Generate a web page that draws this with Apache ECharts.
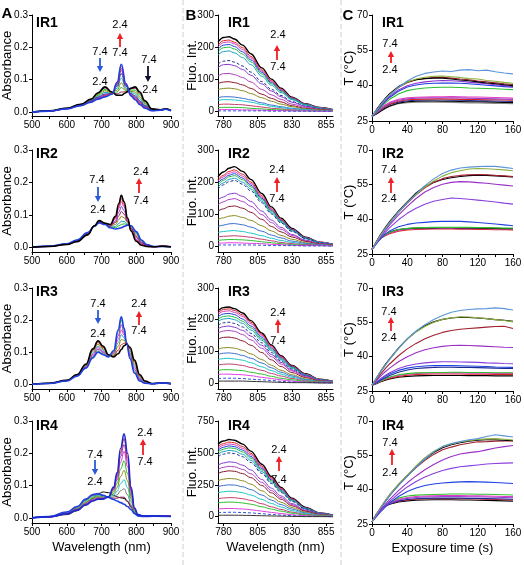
<!DOCTYPE html>
<html><head><meta charset="utf-8">
<script src="https://cdn.jsdelivr.net/npm/echarts@6/dist/echarts.min.js"></script>
<style>html,body{margin:0;padding:0;background:#fff}#c{width:524px;height:565px}</style>
</head><body><div id="c"></div>
<script>
// ---------------- DATA ----------------
// Column A: absorbance spectra (x = wavelength nm)
const absX1 = [500, 550, 600, 640, 670, 690, 710, 730, 745, 757, 770, 785, 797, 810, 825, 845, 870, 885, 900];
const absIR1 = [
  [0, .004, .012, .024, .039, .058, .075, .061, .056, .062, .063, .072, .074, .058, .033, .009, .007, .010, .005],
  [0, .004, .012, .023, .038, .055, .070, .060, .062, .076, .067, .068, .068, .053, .029, .009, .007, .010, .005],
  [0, .004, .011, .022, .036, .052, .066, .059, .068, .090, .071, .064, .062, .047, .026, .008, .007, .010, .005],
  [0, .003, .011, .022, .035, .049, .061, .058, .074, .105, .075, .061, .056, .041, .022, .007, .007, .009, .005],
  [0, .003, .011, .021, .034, .046, .056, .057, .080, .119, .080, .057, .050, .035, .019, .006, .006, .009, .005],
  [0, .003, .010, .021, .033, .044, .053, .056, .084, .129, .082, .055, .046, .032, .017, .005, .006, .009, .004],
  [0, .003, .010, .021, .032, .042, .051, .056, .087, .136, .085, .053, .043, .029, .015, .005, .006, .009, .004],
  [0, .003, .010, .020, .031, .041, .049, .055, .090, .143, .087, .051, .040, .026, .013, .004, .006, .009, .004],
  [0, .004, .012, .024, .040, .060, .078, .062, .052, .052, .060, .074, .078, .062, .035, .010, .007, .010, .005],
  [0, .003, .010, .020, .031, .040, .047, .055, .092, .148, .088, .050, .038, .024, .012, .004, .006, .009, .004]
];
const absX2 = [500, 550, 600, 630, 660, 680, 693, 710, 725, 740, 750, 757, 765, 775, 785, 800, 815, 830, 850, 875, 900];
const absIR2 = [
  [0, .003, .010, .022, .045, .065, .075, .070, .060, .056, .058, .060, .064, .068, .066, .048, .022, .008, .002, .002, .001],
  [0, .003, .010, .022, .044, .065, .076, .070, .061, .060, .066, .070, .072, .070, .064, .045, .020, .007, .002, .002, .001],
  [0, .003, .010, .021, .044, .065, .076, .071, .062, .064, .073, .080, .079, .072, .063, .042, .019, .007, .002, .002, .001],
  [0, .003, .009, .020, .043, .065, .077, .071, .064, .070, .085, .095, .091, .076, .060, .038, .016, .006, .002, .002, .001],
  [0, .003, .009, .020, .042, .066, .079, .072, .065, .076, .097, .110, .102, .079, .058, .033, .014, .005, .001, .002, .001],
  [0, .002, .009, .019, .040, .066, .080, .073, .067, .081, .108, .125, .113, .082, .056, .029, .012, .004, .001, .003, .001],
  [0, .002, .008, .018, .039, .066, .081, .073, .068, .087, .120, .140, .125, .086, .053, .024, .009, .003, .001, .003, .001],
  [0, .002, .008, .018, .039, .066, .081, .074, .069, .091, .127, .150, .132, .088, .052, .021, .008, .003, .001, .003, .001],
  [0, .002, .008, .017, .038, .066, .082, .074, .070, .095, .135, .160, .140, .090, .050, .018, .006, .002, .001, .003, .001]
];
const absX3 = [500, 550, 600, 630, 655, 675, 690, 705, 720, 735, 748, 757, 765, 772, 782, 795, 810, 825, 845, 875, 900];
const absIR3 = [
  [0, .002, .010, .026, .051, .085, .104, .095, .086, .103, .163, .200, .170, .130, .084, .039, .012, .004, .001, .004, .001],
  [0, .002, .011, .026, .053, .089, .109, .099, .087, .100, .151, .185, .161, .129, .089, .045, .015, .005, .001, .004, .001],
  [0, .002, .011, .027, .055, .093, .114, .102, .088, .097, .140, .169, .153, .128, .094, .051, .018, .006, .001, .004, .001],
  [0, .003, .011, .028, .057, .097, .119, .106, .089, .094, .129, .154, .145, .127, .099, .057, .021, .007, .002, .004, .002],
  [0, .003, .011, .029, .058, .102, .125, .110, .090, .091, .118, .139, .137, .127, .105, .063, .024, .008, .002, .004, .002],
  [0, .003, .012, .029, .060, .106, .130, .114, .091, .088, .106, .123, .128, .126, .110, .069, .027, .009, .002, .004, .002],
  [0, .003, .012, .030, .062, .110, .135, .118, .092, .085, .095, .108, .120, .125, .115, .075, .030, .010, .002, .004, .002],
  [0, .002, .010, .025, .050, .082, .100, .092, .085, .105, .170, .210, .175, .130, .080, .035, .010, .003, .001, .004, .001]
];
const absX4 = [500, 550, 600, 630, 655, 675, 690, 705, 720, 735, 745, 755, 765, 775, 785, 795, 805, 820, 850, 900];
const absIR4 = [
  [0, .003, .010, .022, .040, .060, .075, .080, .078, .070, .065, .062, .060, .050, .035, .018, .008, .005, .006, .005],
  [0, .004, .017, .034, .056, .070, .073, .069, .063, .061, .061, .064, .064, .052, .032, .015, .006, .004, .005, .004],
  [0, .004, .017, .033, .054, .068, .071, .067, .063, .065, .071, .084, .090, .071, .040, .017, .007, .004, .005, .004],
  [0, .004, .016, .031, .052, .065, .069, .066, .064, .070, .083, .106, .118, .093, .050, .019, .007, .005, .005, .004],
  [0, .004, .015, .030, .049, .062, .067, .064, .064, .075, .094, .128, .147, .114, .059, .021, .008, .005, .005, .004],
  [0, .004, .014, .028, .047, .060, .064, .063, .064, .081, .107, .151, .177, .137, .068, .024, .008, .005, .006, .005],
  [0, .003, .014, .027, .045, .057, .062, .061, .065, .086, .118, .173, .206, .159, .078, .026, .009, .005, .006, .005],
  [0, .003, .013, .026, .043, .055, .061, .060, .065, .089, .127, .190, .227, .175, .085, .027, .009, .006, .006, .005],
  [0, .003, .012, .025, .041, .053, .059, .059, .065, .092, .134, .203, .245, .188, .090, .029, .010, .006, .006, .005],
  [0, .004, .018, .035, .058, .072, .075, .070, .063, .057, .052, .047, .042, .035, .025, .013, .006, .004, .005, .004],
  [0, .003, .012, .024, .040, .052, .058, .058, .065, .095, .140, .215, .260, .200, .095, .030, .010, .006, .006, .005]
];

// Column B: fluorescence spectra
const fluX = [776, 780, 784, 788, 794, 800, 808, 815, 822, 830, 840, 850, 860];
const fluIR1 = [
  [216, 230, 232, 225, 206, 179, 135, 100, 72, 44, 23, 12, 5],
  [206, 220, 222, 215, 198, 171, 129, 95, 69, 42, 22, 11, 4],
  [201, 214, 216, 210, 192, 166, 125, 93, 67, 41, 22, 11, 4],
  [193, 206, 208, 202, 185, 160, 121, 89, 64, 40, 21, 10, 4],
  [186, 198, 200, 194, 178, 154, 116, 86, 62, 38, 20, 10, 4],
  [175, 186, 188, 182, 167, 145, 109, 81, 58, 36, 19, 9, 4],
  [147, 156, 158, 153, 141, 122, 92, 68, 49, 30, 16, 8, 3],
  [136, 145, 146, 142, 130, 112, 85, 63, 45, 28, 15, 7, 3],
  [110, 117, 118, 114, 105, 91, 68, 51, 37, 22, 12, 6, 2],
  [86, 91, 92, 89, 82, 71, 53, 40, 29, 17, 9, 5, 2],
  [67, 71, 72, 70, 64, 55, 42, 31, 22, 14, 7, 4, 1],
  [42, 45, 45, 44, 40, 35, 26, 19, 14, 9, 5, 2, 1],
  [33, 36, 36, 35, 32, 28, 21, 15, 11, 7, 4, 2, 1],
  [20, 22, 22, 21, 20, 17, 13, 9, 7, 4, 2, 1, 0],
  [11, 12, 12, 12, 11, 9, 7, 5, 4, 2, 1, 1, 0],
  [5, 5, 5, 5, 4, 4, 3, 2, 2, 1, 1, 0, 0],
  [1, 1, 1, 1, 1, 1, 1, 0, 0, 0, 0, 0, 0]
];
const fluIR2 = [
  [216, 231, 243, 248, 233, 208, 164, 122, 87, 55, 27, 12, 5],
  [207, 221, 233, 238, 224, 200, 157, 117, 83, 52, 26, 12, 5],
  [202, 216, 227, 232, 218, 195, 153, 114, 81, 51, 26, 12, 5],
  [197, 210, 221, 226, 212, 190, 149, 111, 79, 50, 25, 11, 5],
  [191, 205, 216, 220, 207, 185, 145, 108, 77, 48, 24, 11, 4],
  [184, 197, 208, 212, 199, 178, 140, 104, 74, 47, 23, 11, 4],
  [178, 191, 201, 205, 193, 172, 135, 100, 72, 45, 23, 10, 4],
  [144, 153, 162, 165, 155, 139, 109, 81, 58, 36, 18, 8, 3],
  [129, 138, 145, 148, 139, 124, 98, 73, 52, 33, 16, 7, 3],
  [109, 116, 123, 125, 118, 105, 83, 61, 44, 28, 14, 6, 3],
  [83, 88, 93, 95, 89, 80, 63, 47, 33, 21, 10, 5, 2],
  [61, 65, 69, 70, 66, 59, 46, 34, 25, 15, 8, 4, 1],
  [42, 45, 47, 48, 45, 40, 32, 24, 17, 11, 5, 2, 1],
  [28, 30, 31, 32, 30, 27, 21, 16, 11, 7, 4, 2, 1],
  [17, 19, 20, 20, 19, 17, 13, 10, 7, 4, 2, 1, 0],
  [9, 9, 10, 10, 9, 8, 7, 5, 4, 2, 1, 1, 0],
  [3, 3, 3, 3, 3, 3, 2, 1, 1, 1, 0, 0, 0]
];
const fluIR3 = [
  [228, 238, 240, 235, 221, 197, 158, 120, 86, 55, 29, 12, 5],
  [222, 232, 234, 229, 215, 192, 154, 117, 84, 54, 28, 12, 5],
  [217, 226, 228, 223, 210, 187, 150, 114, 82, 52, 27, 11, 5],
  [209, 218, 220, 216, 202, 180, 145, 110, 79, 51, 26, 11, 4],
  [201, 210, 212, 208, 195, 174, 140, 106, 76, 49, 25, 11, 4],
  [194, 202, 204, 200, 188, 167, 135, 102, 73, 47, 24, 10, 4],
  [182, 190, 192, 188, 177, 157, 127, 96, 69, 44, 23, 10, 4],
  [171, 178, 180, 176, 166, 148, 119, 90, 65, 41, 22, 9, 4],
  [158, 164, 166, 163, 153, 136, 110, 83, 60, 38, 20, 8, 3],
  [138, 144, 145, 142, 133, 119, 96, 73, 52, 33, 17, 7, 3],
  [106, 111, 112, 110, 103, 92, 74, 56, 40, 26, 13, 6, 2],
  [90, 94, 95, 93, 87, 78, 63, 48, 34, 22, 11, 5, 2],
  [74, 77, 78, 76, 72, 64, 51, 39, 28, 18, 9, 4, 2],
  [57, 59, 60, 59, 55, 49, 40, 30, 22, 14, 7, 3, 1],
  [40, 42, 42, 41, 39, 34, 28, 21, 15, 10, 5, 2, 1],
  [27, 28, 28, 27, 26, 23, 18, 14, 10, 6, 3, 1, 1],
  [14, 15, 15, 15, 14, 12, 10, 8, 5, 3, 2, 1, 0],
  [6, 6, 6, 6, 6, 5, 4, 3, 2, 1, 1, 0, 0]
];
const fluIR4 = [
  [569, 593, 605, 599, 569, 514, 411, 315, 230, 145, 73, 30, 12],
  [550, 573, 585, 579, 550, 497, 398, 304, 222, 140, 70, 29, 12],
  [536, 559, 570, 564, 536, 485, 388, 296, 217, 137, 68, 29, 11],
  [522, 544, 555, 549, 522, 472, 377, 289, 211, 133, 67, 28, 11],
  [508, 529, 540, 535, 508, 459, 367, 281, 205, 130, 65, 27, 11],
  [489, 510, 520, 515, 489, 442, 354, 270, 198, 125, 62, 26, 10],
  [470, 490, 500, 495, 470, 425, 340, 260, 190, 120, 60, 25, 10],
  [404, 421, 430, 426, 404, 366, 292, 224, 163, 103, 52, 22, 9],
  [371, 387, 395, 391, 371, 336, 269, 205, 150, 95, 47, 20, 8],
  [338, 353, 360, 356, 338, 306, 245, 187, 137, 86, 43, 18, 7],
  [282, 294, 300, 297, 282, 255, 204, 156, 114, 72, 36, 15, 6],
  [235, 245, 250, 248, 235, 213, 170, 130, 95, 60, 30, 13, 5],
  [188, 196, 200, 198, 188, 170, 136, 104, 76, 48, 24, 10, 4],
  [141, 147, 150, 149, 141, 128, 102, 78, 57, 36, 18, 8, 3],
  [108, 113, 115, 114, 108, 98, 78, 60, 44, 28, 14, 6, 2],
  [61, 64, 65, 64, 61, 55, 44, 34, 25, 16, 8, 3, 1],
  [33, 34, 35, 35, 33, 30, 24, 18, 13, 8, 4, 2, 1],
  [11, 12, 12, 12, 11, 10, 8, 6, 5, 3, 1, 1, 0]
];

// Column C: temperature vs exposure time
const timeX = [0, 5, 10, 15, 20, 30, 40, 50, 60, 70, 80, 90, 100, 110, 120, 130, 140, 150, 160];
const tempIR1 = [
  [27, 28, 29.2, 30.3, 31.2, 32.3, 32.8, 33, 33.1, 33, 33, 32.9, 32.8, 32.7, 32.7, 32.6, 32.5, 32.4, 32.3],
  [27, 28, 29.2, 30.4, 31.4, 32.6, 33.2, 33.4, 33.5, 33.5, 33.4, 33.4, 33.3, 33.2, 33.2, 33.1, 33, 32.9, 32.8],
  [27, 28.3, 29.8, 31, 32, 33, 33.6, 33.8, 33.9, 33.9, 33.9, 33.8, 33.8, 33.7, 33.6, 33.6, 33.5, 33.4, 33.3],
  [27, 28.4, 30, 31.2, 32.2, 33.4, 34, 34.2, 34.3, 34.4, 34.4, 34.3, 34.2, 34.2, 34.1, 34, 34, 33.9, 33.8],
  [27, 28.5, 30.2, 31.5, 32.6, 33.8, 34.4, 34.7, 34.8, 34.9, 34.9, 34.8, 34.8, 34.7, 34.6, 34.5, 34.4, 34.3, 34.2],
  [27, 28.6, 30.4, 31.8, 32.9, 34.2, 34.8, 35.1, 35.2, 35.3, 35.3, 35.4, 35.3, 35.2, 35.2, 35.1, 35, 34.9, 34.7],
  [27, 28.8, 30.8, 32.6, 34.2, 36.5, 37.9, 38.6, 39, 39.2, 39.3, 39.3, 39.2, 39, 38.9, 38.8, 38.7, 38.5, 38.3],
  [27, 29, 31.2, 33.2, 35, 37.6, 39.4, 40.3, 40.8, 41, 41.1, 41.1, 41, 40.8, 40.5, 40.2, 39.9, 39.6, 39.3],
  [27, 29.2, 31.5, 33.6, 35.4, 38.2, 40, 41, 41.6, 42, 42.2, 42.1, 41.9, 41.5, 41.2, 40.8, 40.4, 40, 39.6],
  [27, 29.5, 32, 34.2, 36.2, 39.2, 41.3, 42.5, 43.1, 43.5, 43.5, 43.2, 42.8, 42.5, 42, 41.6, 41.2, 40.8, 40.5],
  [27, 29.8, 32.4, 34.6, 36.6, 39.6, 41.6, 42.5, 43, 43.2, 43.2, 42.8, 42.4, 42.1, 41.6, 41.1, 40.8, 40.4, 40],
  [27, 29.5, 32, 34.2, 36.2, 39.3, 41.5, 42.8, 43.6, 44, 44.1, 43.8, 43.5, 43, 42.8, 42.2, 41.9, 41.4, 41],
  [27, 29.5, 32, 34.2, 36, 39.2, 42, 44, 45.2, 45.8, 46.2, 46, 46.6, 46.8, 46.3, 46.6, 45.9, 45.4, 45]
];
const tempIR2 = [
  [27, 29.9, 31.8, 32.9, 33.8, 34.9, 35.4, 35.6, 35.7, 35.8, 35.8, 35.8, 35.7, 35.7, 35.6, 35.6, 35.5, 35.5, 35.4],
  [27, 29.8, 31.8, 33.1, 34.1, 35.2, 35.7, 35.9, 36, 36.1, 36.1, 36.1, 36, 36, 35.9, 35.9, 35.8, 35.8, 35.7],
  [27, 29.7, 31.9, 33.4, 34.5, 35.6, 36, 36.2, 36.3, 36.3, 36.4, 36.4, 36.3, 36.3, 36.2, 36.2, 36.1, 36, 36],
  [27, 29.6, 31.8, 33.3, 34.4, 35.6, 36.1, 36.3, 36.4, 36.5, 36.5, 36.6, 36.5, 36.5, 36.4, 36.4, 36.3, 36.2, 36.2],
  [27, 29.5, 31.8, 33.6, 35, 36.8, 37.8, 38.4, 38.7, 39, 39.1, 39.2, 39.1, 38.9, 38.6, 38.3, 38, 37.6, 37.2],
  [27, 29.6, 32.2, 34.4, 36.4, 39.8, 42.6, 44.8, 46.5, 47.8, 48.6, 49.2, 49, 48.7, 48.3, 47.9, 47.5, 47, 46.6],
  [27, 29.8, 32.6, 35.2, 37.6, 41.8, 45.6, 49, 51.8, 53.8, 55.2, 56, 56.3, 56.2, 55.9, 55.6, 55.2, 54.8, 54.4],
  [27, 30.4, 33.6, 36.4, 39, 43.6, 47.6, 51.4, 54.2, 56, 57.2, 58, 58.5, 58.9, 59.1, 59, 58.8, 58.6, 58.3],
  [27, 30, 33, 35.8, 38.4, 43, 47, 50.6, 53.6, 55.9, 57.6, 58.5, 59, 59.3, 59.4, 59.3, 59, 58.8, 58.5],
  [27, 30.2, 33.3, 36.1, 38.6, 43.2, 47.2, 50.8, 54, 56.6, 58.7, 60.2, 61, 61.8, 62, 61.9, 61.7, 61.4, 61],
  [27, 30, 33, 35.8, 38.4, 43, 47.2, 51, 54.6, 57.5, 59.8, 61.3, 62.2, 62.6, 62.8, 63, 62.9, 62.5, 62]
];
const tempIR3 = [
  [27.5, 28.2, 29, 29.7, 30.3, 31, 31.4, 31.6, 31.7, 31.8, 31.8, 31.8, 31.8, 31.7, 31.7, 31.7, 31.6, 31.6, 31.6],
  [27.5, 28.4, 29.3, 30, 30.6, 31.4, 31.9, 32.2, 32.3, 32.4, 32.4, 32.4, 32.4, 32.3, 32.3, 32.3, 32.2, 32.2, 32.2],
  [27.5, 28.4, 29.4, 30.2, 30.9, 31.8, 32.3, 32.6, 32.8, 32.9, 32.9, 32.9, 32.9, 32.8, 32.8, 32.8, 32.7, 32.7, 32.7],
  [27.5, 28.5, 29.5, 30.4, 31.1, 32.1, 32.6, 32.9, 33, 33.1, 33.1, 33.2, 33.2, 33.1, 33.1, 33.1, 33, 33, 33],
  [27.5, 28.6, 29.8, 30.8, 31.8, 33.2, 34.2, 34.8, 35.1, 35.3, 35.4, 35.4, 35.3, 35.3, 35.2, 35.1, 35, 34.9, 34.8],
  [27.5, 28.8, 30.2, 31.4, 32.4, 34, 35, 35.6, 35.9, 36.1, 36.1, 36.1, 36, 35.9, 35.8, 35.7, 35.5, 35.4, 35.3],
  [27.5, 29, 30.5, 31.8, 33, 34.8, 36, 36.8, 37.3, 37.6, 37.8, 37.8, 37.7, 37.6, 37.5, 37.3, 37.2, 37, 36.9],
  [27.5, 29.6, 31.6, 33.4, 35, 37.8, 40, 41.7, 43, 43.9, 44.5, 44.9, 45, 44.9, 44.7, 44.5, 44.3, 44.1, 44],
  [27.5, 30, 32.5, 34.8, 36.8, 40.4, 43.4, 45.8, 47.8, 49.4, 50.6, 51.4, 52, 52.3, 52.6, 52.9, 53.2, 53.3, 52.3],
  [27.5, 30.7, 33.7, 36.5, 39, 43.7, 47.8, 51, 53.5, 55.2, 56.3, 56.9, 57.2, 57.1, 56.9, 56.6, 56.2, 55.9, 55.4],
  [27.5, 30.5, 33.5, 36.2, 38.8, 43.5, 47.6, 50.8, 53.2, 55, 56.3, 57, 57.4, 57.3, 57, 56.6, 56.2, 55.8, 55.2],
  [27.5, 30.5, 33.5, 36.2, 38.8, 43.6, 47.8, 51.2, 54, 56.2, 58, 59.4, 60.2, 60.6, 60.9, 61, 61.3, 61, 60.4]
];
const tempIR4 = [
  [26, 29.2, 31.4, 32.7, 33.6, 34.6, 35.1, 35.4, 35.5, 35.6, 35.6, 35.6, 35.5, 35.5, 35.4, 35.3, 35.2, 35.1, 35],
  [26, 29.4, 31.7, 33, 33.9, 35, 35.5, 35.8, 36, 36, 36.1, 36.1, 36, 36, 35.9, 35.8, 35.7, 35.6, 35.5],
  [26, 29, 31.3, 32.8, 33.8, 35.1, 35.7, 36, 36.2, 36.3, 36.3, 36.3, 36.3, 36.2, 36.2, 36.1, 36, 35.9, 35.8],
  [26, 28.8, 31.1, 32.8, 34, 35.5, 36.2, 36.6, 36.8, 36.9, 37, 37, 37, 36.9, 36.9, 36.8, 36.7, 36.6, 36.5],
  [26, 28.8, 31.2, 32.9, 34.2, 35.8, 36.6, 37, 37.2, 37.3, 37.4, 37.4, 37.4, 37.3, 37.3, 37.2, 37.1, 37, 37],
  [26, 28.6, 31, 33, 34.5, 36.3, 37.2, 37.6, 37.8, 37.9, 38, 38.1, 38.1, 38.1, 38, 38, 37.9, 37.8, 37.7],
  [26, 28.2, 30.4, 32.4, 34.2, 37, 39.2, 40.7, 41.8, 42.5, 42.9, 43.2, 43.4, 43.5, 43.4, 43.3, 43.1, 42.9, 42.7],
  [26, 28.4, 30.8, 33, 34.9, 38.2, 41.2, 43.6, 45.5, 47.1, 48.4, 49.3, 50, 50.4, 50.8, 51.2, 51.4, 51.6, 51.7],
  [26, 28.6, 31.2, 33.6, 35.8, 39.6, 43, 46, 48.7, 51, 53, 54.5, 55.6, 56.2, 56.6, 57.4, 58.2, 58.8, 59.3],
  [26, 29.2, 32.3, 35.1, 37.8, 42.2, 46, 49.6, 52.8, 55.4, 57.4, 58.6, 59.6, 60.3, 60.9, 61, 61.2, 61.3, 61.3],
  [26, 29, 32, 34.8, 37.4, 42, 46, 50, 53.4, 56.2, 58.3, 59.6, 60.5, 61.2, 61.6, 61.8, 61.8, 61.6, 61.4],
  [26, 29.2, 32.3, 35.2, 37.8, 42.4, 46.4, 50.4, 54, 56.8, 58.8, 60, 60.8, 61.4, 61.9, 62.2, 62.3, 62, 61.7],
  [26, 29, 32, 34.8, 37.4, 41.8, 45.8, 49.8, 53.4, 56.5, 58.8, 60.2, 61, 61.8, 62.3, 63.2, 64, 63.5, 63]
];

const panelNames = ['IR1', 'IR2', 'IR3', 'IR4'];
const colLetters = ['A', 'B', 'C'];
const yNames = ['Absorbance', 'Fluo. Int.', 'T (°C)'];
const xNames = ['Wavelength (nm)', 'Wavelength (nm)', 'Exposure time (s)'];
const absTicks = [0, 0.1, 0.2, 0.3];
const fluTicks = [0, 100, 200, 300];
const fluTicks4 = [0, 250, 500, 750];
const tempTicks = [25, 40, 55, 70];
const wlTicksA = [500, 600, 700, 800, 900];
const wlTicksB = [780, 805, 830, 855];
const timeTicks = [0, 40, 80, 120, 160];

// ---------------- STYLE / LAYOUT ----------------
const FONT = '"Liberation Sans", Arial, Helvetica, sans-serif';
const colDefs = [{left: 32, width: 139}, {left: 218, width: 115}, {left: 372, width: 141}];
const rowTop = [15, 150, 288, 421];
const rowBotAB = [116, 252, 389, 523];
const rowBotC = [121, 254, 391, 524];
const absMin = [-0.012, -0.015, -0.015, -0.016];
const fluMin = [-15, -19, -19, -49];
const yNameGap = [18.5, 19.5, 16];

const colAbs = {
  1: ['#8b1a4a', '#22b822', '#8b8b10', '#20a8c0', '#1a2a8a', '#8a30d0', '#e02020', '#e030c0', '#000000', '#2040e0'],
  2: ['#2040e0', '#22b822', '#20a8c0', '#8b8b10', '#8b1a4a', '#8a30d0', '#e030c0', '#e02020', '#000000'],
  3: ['#30c830', '#8a30d0', '#e030c0', '#20a8c0', '#8b8b10', '#e02020', '#000000', '#2040e0'],
  4: ['#000000', '#8b1a4a', '#777777', '#20c8c8', '#8b8b10', '#22b822', '#e030c0', '#8a30d0', '#e02020', '#2040e0', '#1a2ad0']
};
const thickAbs = {1: [8, 9], 2: [0, 8], 3: [6, 7], 4: [9, 10]};
const colFlu = ['#000000', '#e02020', '#d63cc0', '#2040e0', '#22c040', '#1aa0c0', '#1a2a90', '#8a3ad0', '#b040c0',
  '#8b1a2a', '#8b8b20', '#3a70d0', '#20c8c8', '#c04070', '#30c030', '#e040e0', '#3050e0', '#333333'];
const colTemp = {
  1: ['#888888', '#000000', '#1a2a90', '#e02020', '#9a40d0', '#e040c0', '#30c030', '#2040e0', '#8a30d0', '#a02030', '#000000', '#8db040', '#5a96d8'],
  2: ['#e02020', '#e040c0', '#000000', '#30c030', '#2040e0', '#8a40e0', '#9a30c8', '#000000', '#a02030', '#8db040', '#5a96d8'],
  3: ['#000000', '#e02020', '#e040c0', '#30c030', '#1a2a90', '#2040e0', '#8a40e0', '#9a30c8', '#a02030', '#000000', '#8db040', '#5a96d8'],
  4: ['#000000', '#e02020', '#1a2a90', '#8a40e0', '#e040c0', '#30c030', '#2040e0', '#8a40e0', '#9a30c8', '#a02030', '#000000', '#8db040', '#5a96d8']
};

const absX = {1: absX1, 2: absX2, 3: absX3, 4: absX4};
const absY = {1: absIR1, 2: absIR2, 3: absIR3, 4: absIR4};
const fluY = {1: fluIR1, 2: fluIR2, 3: fluIR3, 4: fluIR4};
const tempY = {1: tempIR1, 2: tempIR2, 3: tempIR3, 4: tempIR4};

const grids = [], xAxes = [], yAxes = [], series = [], graphic = [];
const tickLen = 3;

function range(a, b, s) { const r = []; for (let v = a; v <= b + 1e-9; v += s) r.push(+v.toFixed(4)); return r; }

for (let r = 0; r < 4; r++) {
  for (let c = 0; c < 3; c++) {
    const idx = r * 3 + c;
    const bot = c === 2 ? rowBotC[r] : rowBotAB[r];
    grids.push({left: colDefs[c].left, top: rowTop[r], width: colDefs[c].width, height: bot - rowTop[r], outerBoundsMode: 'none', containLabel: false});
    let xa = {type: 'value', gridIndex: idx, position: 'bottom',
      axisLine: {onZero: false, lineStyle: {color: '#000', width: 1}},
      splitLine: {show: false},
      axisLabel: {color: '#000', fontSize: 10, fontFamily: FONT, margin: 4},
      axisTick: {length: tickLen, lineStyle: {color: '#000'}}};
    let ya = {type: 'value', gridIndex: idx,
      axisLine: {show: true, lineStyle: {color: '#000', width: 1}},
      splitLine: {show: false},
      axisLabel: {color: '#000', fontSize: 10, fontFamily: FONT, margin: 4},
      axisTick: {show: true, length: tickLen, lineStyle: {color: '#000'}},
      name: yNames[c], nameLocation: 'middle', nameGap: yNameGap[c], nameMoveOverlap: false,
      nameTextStyle: {color: '#000', fontSize: 13, fontFamily: FONT}};
    if (r === 3) {
      xa.name = xNames[c]; xa.nameLocation = 'middle'; xa.nameGap = 18; xa.nameMoveOverlap = false;
      xa.nameTextStyle = {color: '#000', fontSize: 13, fontFamily: FONT};
    }
    if (c === 0) {
      xa.min = 500; xa.max = 900;
      xa.axisLabel.customValues = wlTicksA; xa.axisTick.customValues = range(500, 900, 50);
      ya.min = absMin[r]; ya.max = 0.3;
      ya.axisLabel.customValues = absTicks; ya.axisLabel.formatter = v => v.toFixed(1);
      ya.axisTick.customValues = absTicks;
      const xs = absX[r + 1], ys = absY[r + 1];
      ys.forEach((curve, k) => {
        const thick = thickAbs[r + 1].includes(k);
        series.push({type: 'line', xAxisIndex: idx, yAxisIndex: idx, data: xs.map((x, j) => [x, curve[j]]),
          showSymbol: false, smooth: 0.45, smoothMonotone: 'x', silent: true, z: thick ? 3 : 2,
          lineStyle: {color: colAbs[r + 1][k], width: thick ? 1.6 : 1}});
      });
    } else if (c === 1) {
      xa.min = 776; xa.max = 860;
      xa.axisLabel.customValues = wlTicksB; xa.axisTick.customValues = wlTicksB;
      const t = r === 3 ? fluTicks4 : fluTicks;
      ya.min = fluMin[r]; ya.max = t[3];
      ya.axisLabel.customValues = t; ya.axisTick.customValues = t;
      fluY[r + 1].forEach((curve, k) => {
        series.push({type: 'line', xAxisIndex: idx, yAxisIndex: idx, data: fluX.map((x, j) => [x, curve[j]]),
          showSymbol: false, smooth: 0.35, smoothMonotone: 'x', silent: true,
          lineStyle: {color: colFlu[k % colFlu.length], width: k === 0 ? 1.4 : 1, type: (k === 6 || k === 16) ? [3, 2] : 'solid'}});
      });
    } else {
      xa.min = 0; xa.max = 160;
      xa.axisLabel.customValues = timeTicks; xa.axisTick.customValues = range(0, 160, 20);
      ya.min = 25; ya.max = 70;
      ya.axisLabel.customValues = tempTicks; ya.axisTick.customValues = tempTicks;
      tempY[r + 1].forEach((curve, k) => {
        series.push({type: 'line', xAxisIndex: idx, yAxisIndex: idx, data: timeX.map((x, j) => [x, curve[j]]),
          showSymbol: false, silent: true,
          lineStyle: {color: colTemp[r + 1][k], width: 1.1}});
      });
    }
    xAxes.push(xa); yAxes.push(ya);
  }
}

// ---------------- ANNOTATIONS ----------------
function txt(s, x, y, size, bold, align) {
  graphic.push({type: 'text', silent: true, z: 100, style: {text: s, x: x, y: y, fill: '#000',
    font: (bold ? 'bold ' : '') + size + 'px ' + FONT, align: align || 'center', verticalAlign: 'middle',
    textAlign: align || 'center', textVerticalAlign: 'middle'}});
}
function arrow(x, yTail, yHead, color) {
  const dir = yHead < yTail ? 1 : -1;
  graphic.push({type: 'line', silent: true, z: 100, shape: {x1: x, y1: yTail, x2: x, y2: yHead + dir * 4},
    style: {stroke: color, lineWidth: 1.8}});
  graphic.push({type: 'polygon', silent: true, z: 100, shape: {points: [[x - 3.2, yHead + dir * 6], [x + 3.2, yHead + dir * 6], [x, yHead]]},
    style: {fill: color}});
}
const BLUE = '#2a5ad8', RED = '#ee2027', DARK = '#101030';
// separators
[183, 341].forEach(x => graphic.push({type: 'line', silent: true, z: 0, shape: {x1: x, y1: 0, x2: x, y2: 565},
  style: {stroke: '#c8cfd8', lineWidth: 1, lineDash: [5, 3]}}));
// letters
txt(colLetters[0], 7, 14, 15, true); txt(colLetters[1], 191, 16, 15, true); txt(colLetters[2], 348, 16, 15, true);
// panel names
const irY = [23, 154, 292, 426];
[36, 228, 382].forEach(x => irY.forEach((y, r) => txt(panelNames[r], x, y, 14, true, 'left')));
// column A
txt('7.4', 100, 52, 11); arrow(100, 58, 72, BLUE); txt('2.4', 100, 82, 11);
txt('2.4', 120, 25, 11); arrow(120, 47, 33, RED); txt('7.4', 120, 53, 11);
txt('7.4', 149, 60, 11); arrow(148, 66, 82, DARK); txt('2.4', 150, 90, 11);
txt('7.4', 97, 180, 11); arrow(98, 187, 202, BLUE); txt('2.4', 98, 210, 11);
txt('2.4', 141, 172, 11); arrow(139, 193, 178, RED); txt('7.4', 141, 201, 11);
txt('7.4', 98, 304, 11); arrow(98, 310, 324, BLUE); txt('2.4', 98, 334, 11);
txt('2.4', 139, 304, 11); arrow(139, 325, 311, RED); txt('7.4', 139, 331, 11);
txt('7.4', 95, 455, 11); arrow(95, 460, 475, BLUE); txt('2.4', 95, 482, 11);
txt('2.4', 145, 433, 11); arrow(143, 455, 439, RED); txt('7.4', 145, 462, 11);
// column B
txt('2.4', 278, 35, 11); arrow(277, 60, 45, RED); txt('7.4', 278, 67, 11);
txt('2.4', 277, 170, 11); arrow(277, 192, 177, RED); txt('7.4', 277, 199, 11);
txt('2.4', 278, 313, 11); arrow(278, 333, 319, RED); txt('7.4', 278, 341, 11);
txt('2.4', 279, 450, 11); arrow(279, 471, 456, RED); txt('7.4', 279, 480, 11);
// column C
txt('7.4', 390, 44, 11); arrow(391, 63, 51, RED); txt('2.4', 390, 70, 11);
txt('7.4', 389, 170, 11); arrow(391, 193, 177, RED); txt('2.4', 389, 199, 11);
txt('7.4', 389, 312, 11); arrow(391, 331, 317, RED); txt('2.4', 389, 338, 11);
txt('7.4', 390, 443, 11); arrow(392, 465, 449, RED); txt('2.4', 390, 473, 11);

const chart = echarts.init(document.getElementById('c'), null, {renderer: 'canvas'});
chart.setOption({animation: false, backgroundColor: '#fff', grid: grids, xAxis: xAxes, yAxis: yAxes, series: series, graphic: graphic});
</script>
</body></html>
